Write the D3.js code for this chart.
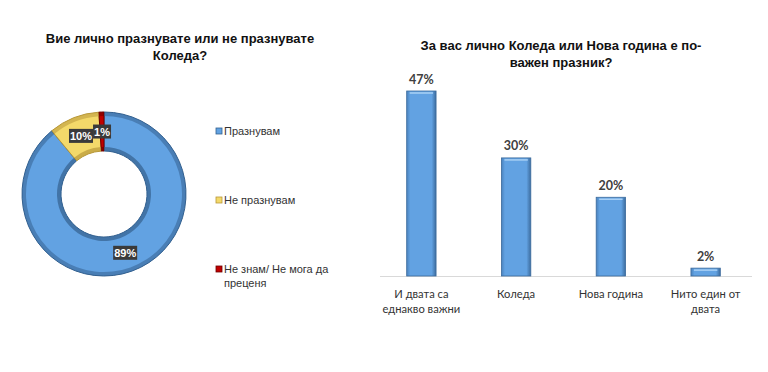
<!DOCTYPE html>
<html>
<head>
<meta charset="utf-8">
<style>
  body { margin: 0; background: #fff; }
  svg { display: block; }
</style>
</head>
<body>
<div id="chart"></div>
<script src="https://d3js.org/d3.v7.min.js"></script>
<script>
// donut data
var pieTitle = ["Вие лично празнувате или не празнувате", "Коледа?"];
var pieLabels = ["Празнувам", "Не празнувам", "Не знам/ Не мога да преценя"];
var pieValues = [89, 10, 1];
var pieColors = ["#62a2e2", "#f3d96a", "#c00000"];
var pieEdges = ["#34618f", "#b8983a", "#6e0000"];

// bar data
var barTitle = ["За вас лично Коледа или Нова година е по-", "важен празник?"];
var barCats = [["И двата са", "еднакво важни"], ["Коледа"], ["Нова година"], ["Нито един от", "двата"]];
var barValues = [47, 30, 20, 2];

var w = 768, h = 372;
var svg = d3.select("#chart").append("svg")
    .attr("width", w)
    .attr("height", h);

var defs = svg.append("defs");
var grad = defs.append("linearGradient").attr("id", "barGrad")
    .attr("x1", "0").attr("x2", "1").attr("y1", "0").attr("y2", "0");
grad.append("stop").attr("offset", "0").attr("stop-color", "#4a82bd");
grad.append("stop").attr("offset", "0.12").attr("stop-color", "#62a2e2");
grad.append("stop").attr("offset", "0.85").attr("stop-color", "#62a2e2");
grad.append("stop").attr("offset", "1").attr("stop-color", "#3c6c9e");

// ---- left: donut ----
svg.append("text")
    .attr("x", 180).attr("y", 38)
    .attr("text-anchor", "middle")
    .attr("dominant-baseline", "central")
    .style("font-family", "Liberation Sans, Arial, sans-serif")
    .style("font-weight", "bold")
    .style("font-size", "13px")
    .attr("fill", "#111")
    .selectAll("tspan")
    .data(pieTitle)
    .enter().append("tspan")
    .attr("x", 180)
    .attr("dy", function (d, i) { return i == 0 ? 0 : 17; })
    .text(function (d) { return d; });

var cx = 104, cy = 194, rOut = 82, rIn = 43;
var pie = d3.pie().sort(null).value(function (d) { return d; });
var arcs = pie(pieValues);
var arc = d3.arc().innerRadius(rIn).outerRadius(rOut);
var g = svg.append("g").attr("transform", "translate(" + cx + "," + cy + ")");

g.selectAll("path.slice")
    .data(arcs)
    .enter().append("path")
    .attr("class", "slice")
    .attr("d", arc)
    .attr("fill", function (d, i) { return pieColors[i]; })
    .attr("stroke", function (d, i) { return pieEdges[i]; })
    .attr("stroke-width", 1);

// darker rim on outer and inner edge (bevel look)
var rimOut = d3.arc().innerRadius(rOut - 4).outerRadius(rOut);
var rimIn = d3.arc().innerRadius(rIn).outerRadius(rIn + 4);
g.selectAll("path.rimo")
    .data(arcs)
    .enter().append("path")
    .attr("d", rimOut)
    .attr("fill", function (d, i) { return pieEdges[i]; })
    .attr("opacity", 0.55);
g.selectAll("path.rimi")
    .data(arcs)
    .enter().append("path")
    .attr("d", rimIn)
    .attr("fill", function (d, i) { return pieEdges[i]; })
    .attr("opacity", 0.7);

var lab = g.selectAll("g.lab")
    .data(arcs)
    .enter().append("g")
    .attr("transform", function (d) {
        var c = arc.centroid(d);
        return "translate(" + c[0] + "," + c[1] + ")";
    });
lab.append("rect")
    .attr("x", function (d) { return d.data >= 10 ? -12 : -9; })
    .attr("y", -7)
    .attr("width", function (d) { return d.data >= 10 ? 24 : 18; })
    .attr("height", 14)
    .attr("fill", "#3a3a3a");
lab.append("text")
    .attr("text-anchor", "middle")
    .attr("dominant-baseline", "central")
    .style("font-family", "Liberation Sans, Arial, sans-serif")
    .style("font-weight", "bold")
    .style("font-size", "11px")
    .attr("fill", "#fff")
    .text(function (d) { return d.data + "%"; });

// legend
var legY = [131, 200, 269];
var leg = svg.selectAll("g.leg")
    .data(pieLabels)
    .enter().append("g")
    .attr("transform", function (d, i) { return "translate(216," + legY[i] + ")"; });
leg.append("rect")
    .attr("x", 0).attr("y", -3)
    .attr("width", 6).attr("height", 6)
    .attr("fill", function (d, i) { return pieColors[i]; })
    .attr("stroke", function (d, i) { return pieEdges[i]; })
    .attr("stroke-width", 0.8);
leg.append("text")
    .attr("x", 8)
    .attr("dominant-baseline", "central")
    .style("font-family", "Liberation Sans, Arial, sans-serif")
    .style("font-size", "11px")
    .attr("fill", "#333")
    .each(function (d) {
        var t = d3.select(this);
        var parts = d == "Не знам/ Не мога да преценя" ? ["Не знам/ Не мога да", "преценя"] : [d];
        parts.forEach(function (p, i) {
            t.append("tspan").attr("x", 8).attr("dy", i == 0 ? 0 : 14).text(p);
        });
    });

// ---- right: bars ----
svg.append("text")
    .attr("x", 561).attr("y", 45)
    .attr("text-anchor", "middle")
    .attr("dominant-baseline", "central")
    .style("font-family", "Liberation Sans, Arial, sans-serif")
    .style("font-weight", "bold")
    .style("font-size", "13px")
    .attr("fill", "#111")
    .selectAll("tspan")
    .data(barTitle)
    .enter().append("tspan")
    .attr("x", 561)
    .attr("dy", function (d, i) { return i == 0 ? 0 : 17; })
    .text(function (d) { return d; });

var x = d3.scaleBand()
    .domain(d3.range(barValues.length))
    .range([374, 753])
    .paddingInner(0.69)
    .paddingOuter(0.345);
var y = d3.scaleLinear().domain([0, 47]).range([276, 91]);

svg.append("line")
    .attr("x1", 380).attr("x2", 752)
    .attr("y1", y(0) + 0.5).attr("y2", y(0) + 0.5)
    .attr("stroke", "#d9d9d9");

svg.selectAll("rect.bar")
    .data(barValues)
    .enter().append("rect")
    .attr("class", "bar")
    .attr("x", function (d, i) { return x(i); })
    .attr("y", function (d) { return y(d); })
    .attr("width", x.bandwidth())
    .attr("height", function (d) { return y(0) - y(d); })
    .attr("fill", "url(#barGrad)")
    .attr("stroke", "#3b6a9c")
    .attr("stroke-width", 0.8);

// top highlight
svg.selectAll("line.hl")
    .data(barValues)
    .enter().append("line")
    .attr("x1", function (d, i) { return x(i) + 3; })
    .attr("x2", function (d, i) { return x(i) + x.bandwidth() - 3; })
    .attr("y1", function (d) { return y(d) + 2; })
    .attr("y2", function (d) { return y(d) + 2; })
    .attr("stroke", "#a9d0f5")
    .attr("stroke-width", 1.5);

svg.selectAll("text.val")
    .data(barValues)
    .enter().append("text")
    .attr("x", function (d, i) { return x(i) + x.bandwidth() / 2; })
    .attr("y", function (d) { return y(d) - 12; })
    .attr("text-anchor", "middle")
    .attr("dominant-baseline", "central")
    .style("font-family", "Lato, Open Sans, sans-serif")
    .style("font-weight", "bold")
    .style("font-size", "12.5px")
    .attr("fill", "#404040")
    .text(function (d) { return d + "%"; });

svg.selectAll("text.cat")
    .data(barCats)
    .enter().append("text")
    .attr("y", 293)
    .attr("text-anchor", "middle")
    .attr("dominant-baseline", "central")
    .style("font-family", "Lato, Open Sans, sans-serif")
    .style("font-size", "11.2px")
    .attr("fill", "#333")
    .each(function (d, i) {
        var t = d3.select(this);
        var cxp = x(i) + x.bandwidth() / 2;
        d.forEach(function (p, j) {
            t.append("tspan").attr("x", cxp).attr("dy", j == 0 ? 0 : 14.5).text(p);
        });
    });
</script>
</body>
</html>
